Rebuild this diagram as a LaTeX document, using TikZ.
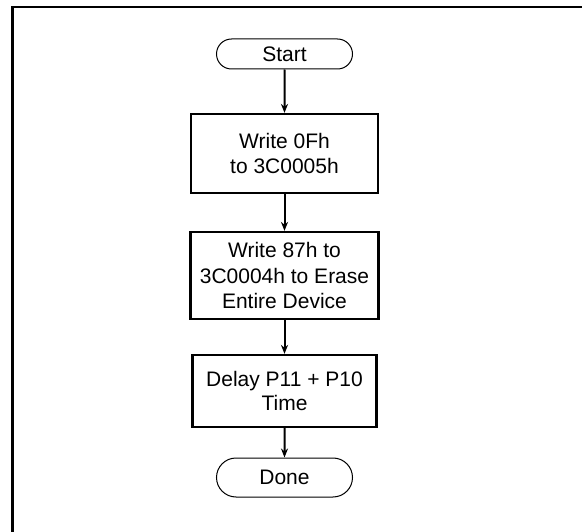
\documentclass[tikz,border=0pt]{standalone}
\usepackage{fontspec}
\setmainfont{Liberation Sans}
\usetikzlibrary{shapes.misc,arrows.meta}
\begin{document}
\begin{tikzpicture}[x=1pt,y=-1pt,
  every node/.style={font=\fontsize{21}{25.5}\selectfont, align=center, inner sep=0pt},
  term/.style={rounded rectangle, draw, line width=1pt, minimum width=136pt},
  procbox/.style={rectangle, draw, line width=2.2pt},
  flow/.style={line width=2pt, -{Stealth[length=9pt,width=7pt]}}]
\useasboundingbox (0,0) rectangle (582,532);
\draw[line width=2.2pt] (12.5,540) -- (12.5,7) -- (590,7);
\node[term, minimum height=30pt] (start) at (284.5,54) {Start};
\node[procbox, minimum width=187pt, minimum height=79pt] (w1) at (284.5,153.5) {Write 0Fh\\to 3C0005h};
\node[procbox, minimum width=188pt, minimum height=87pt] (w2) at (284.5,275.5) {Write 87h to\\3C0004h to Erase\\Entire Device};
\node[procbox, minimum width=184pt, minimum height=72pt, font=\fontsize{21}{23.5}\selectfont] (dl) at (284.5,391) {Delay P11 + P10\\Time};
\node[term, minimum height=39pt] (done) at (284.5,477.5) {Done};
\draw[flow] (start) -- (w1);
\draw[flow] (w1) -- (w2);
\draw[flow] (w2) -- (dl);
\draw[flow] (dl) -- (done);
\end{tikzpicture}
\end{document}
